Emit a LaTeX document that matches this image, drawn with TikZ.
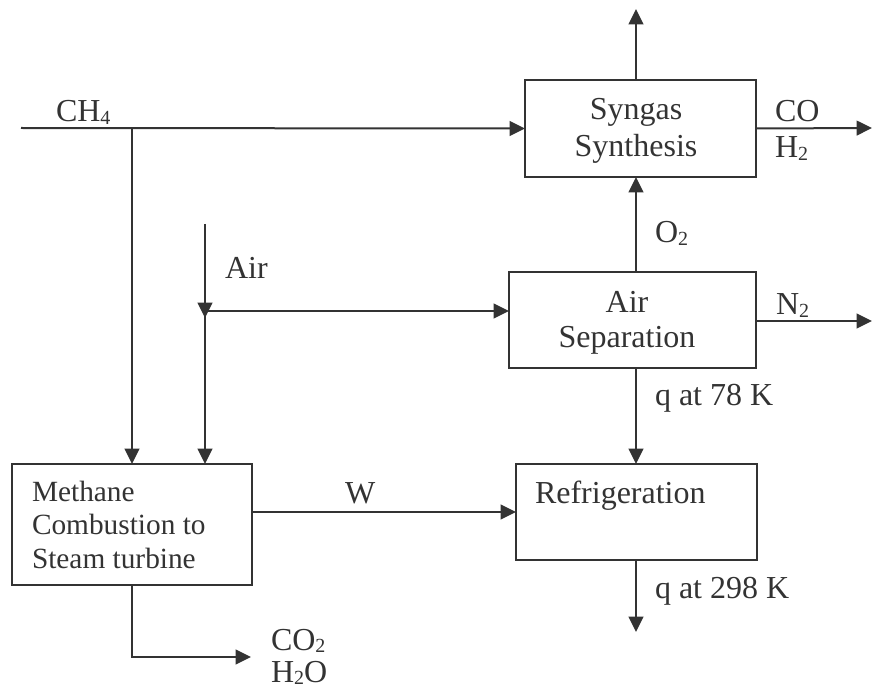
\documentclass[tikz,border=0pt]{standalone}
\usepackage{fontspec}
\setmainfont{Liberation Serif}
\usetikzlibrary{arrows.meta}
\newcommand{\lowsub}[1]{\raisebox{-0.2ex}{\fontsize{15}{15}\selectfont #1}}
\definecolor{ink}{HTML}{333333}
\begin{document}
\begin{tikzpicture}[x=0.75pt,y=-0.75pt,
  line width=1.5pt, draw=ink, text=ink,
  every node/.style={inner sep=0pt, outer sep=0pt, font=\fontsize{24}{27}\selectfont},
  box/.style={draw=ink, line width=1.5pt, anchor=north west},
  lbl/.style={anchor=base west},
  arr/.style={-{Triangle[length=11.5pt,width=11pt]}}]
\useasboundingbox (0,0) rectangle (872,688);

% boxes
\node[box, minimum width=173.25pt, minimum height=72.75pt] (syn) at (525,80) {};
\node[box, minimum width=185.25pt, minimum height=72pt] (asep) at (509,272) {};
\node[box, minimum width=180.75pt, minimum height=72pt] (refr) at (516,464) {};
\node[box, minimum width=180pt, minimum height=90.75pt] (meth) at (12,464) {};

% box texts (base anchor = baseline of the last line)
\node[align=center, anchor=base, font=\fontsize{24}{27.75}\selectfont] (syntxt) at (636,157) {Syngas\\Synthesis};
\node[align=center, anchor=base, font=\fontsize{24}{27}\selectfont] (aseptxt) at (627,348) {Air\\Separation};
\node[lbl] (refrtxt) at (535,503) {Refrigeration};
\node[align=left, anchor=base west, font=\fontsize{22}{25.1}\selectfont] (methtxt) at (32,568) {Methane\\Combustion to\\Steam turbine};

% reference coordinates
\coordinate (ax) at (636,0);
\coordinate (ch4in) at (21,128);
\coordinate (ch4j) at (132,128);
\coordinate (top) at (636,9);
\coordinate (coout) at (872,128);
\coordinate (n2out) at (872,321);
\coordinate (airin) at (205,224);
\coordinate (airtip) at (205,318);
\coordinate (airj) at (205,311);
\coordinate (q298) at (636,632);
\coordinate (exbend) at (132,657);
\coordinate (exout) at (251,657);

% connectors
\draw[arr] (ch4in) -- (syn.west);
\draw[arr] (ch4j) -- (meth.north -| ch4j);
\draw[arr] (syn.north -| ax) -- (top);
\draw[arr] (syn.east) -- (coout);
\draw[arr] (asep.north -| ax) -- (syn.south -| ax);
\draw[arr] (asep.east |- n2out) -- (n2out);
\draw[arr] (airin) -- (airtip);
\draw[arr] (airj) -- (asep.west |- airj);
\draw[arr] (airj) -- (meth.north -| airj);
\draw[arr] (asep.south -| ax) -- (refr.north -| ax);
\draw[arr] (meth.east |- refr.west) -- (refr.west);
\draw[arr] (refr.south -| ax) -- (q298);
\draw[arr] (meth.south -| exbend) -- (exbend) -- (exout);

% labels
\node[lbl] (lch4) at (56,122) {CH\lowsub{4}};
\node[align=left, anchor=base west, font=\fontsize{24}{27.5}\selectfont] (lcoh2) at (775,158) {CO\\H\lowsub{2}};
\node[lbl] (lo2) at (655,243) {O\lowsub{2}};
\node[lbl] (lair) at (225,279) {Air};
\node[lbl] (ln2) at (776,315) {N\lowsub{2}};
\node[lbl] (lq78) at (655,405) {q at 78 K};
\node[lbl] (lw) at (345,503) {W};
\node[lbl] (lq298) at (655,598) {q at 298 K};
\node[align=left, anchor=base west, font=\fontsize{24}{24}\selectfont] (lexh) at (271,682) {CO\lowsub{2}\\H\lowsub{2}O};
\end{tikzpicture}
\end{document}
